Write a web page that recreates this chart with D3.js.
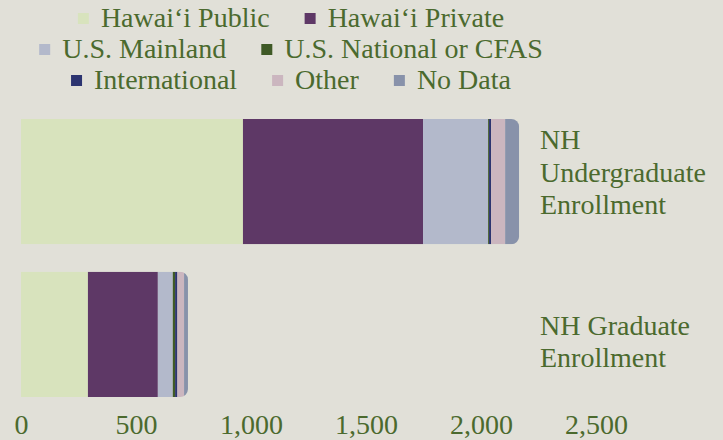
<!DOCTYPE html>
<html>
<head>
<meta charset="utf-8">
<script src="https://cdn.jsdelivr.net/npm/d3@7"></script>
<style>
  html, body { margin: 0; padding: 0; background: #e1e0d8; }
  svg text { font-family: "Liberation Serif", serif; fill: #4b6a2e; }
</style>
</head>
<body>
<div id="root"></div>
<script>
const width = 723, height = 440;

// data
const categories = ["NH Undergraduate Enrollment", "NH Graduate Enrollment"];
const labelLines = [["NH", "Undergraduate", "Enrollment"], ["NH Graduate", "Enrollment"]];
const seriesNames = ["Hawaiʻi Public", "Hawaiʻi Private", "U.S. Mainland", "U.S. National or CFAS", "International", "Other", "No Data"];
const hawaiiPublic   = [965, 291];
const hawaiiPrivate  = [783, 304];
const usMainland     = [283, 65];
const usNational     = [4, 10];
const international  = [9, 10];
const other          = [61, 29];
const noData         = [61, 17];
const xTicks = [0, 500, 1000, 1500, 2000, 2500];

const colors = ["#d8e3bd", "#5e3866", "#b3b9cb", "#3f5a26", "#2c3470", "#cbb6bf", "#8892aa"];
const legendRows = [[0, 1], [2, 3], [4, 5, 6]];

const seriesValues = [hawaiiPublic, hawaiiPrivate, usMainland, usNational, international, other, noData];
const table = categories.map((c, i) => {
  const row = { category: c };
  seriesNames.forEach((s, j) => row[s] = seriesValues[j][i]);
  return row;
});

const fs = 28;
const svg = d3.select('#root').append('svg')
  .attr('width', width).attr('height', height)
  .attr('viewBox', [0, 0, width, height]);

const x = d3.scaleLinear().domain([0, 2500]).range([21, 596]);
const y = d3.scaleBand().domain(categories).range([119, 397]).paddingInner(0.18);
const color = d3.scaleOrdinal().domain(seriesNames).range(colors);

const stacked = d3.stack().keys(seriesNames)(table);

// clip each bar so only its right end is rounded
const r = 8;
const defs = svg.append('defs');
table.forEach((d, i) => {
  const total = d3.sum(seriesNames, s => d[s]);
  const x0 = x(0), x1 = x(total), y0 = y(d.category), y1 = y0 + y.bandwidth();
  defs.append('clipPath').attr('id', 'clip' + i)
    .append('path')
    .attr('d', `M${x0},${y0}H${x1 - r}A${r},${r} 0 0 1 ${x1},${y0 + r}V${y1 - r}A${r},${r} 0 0 1 ${x1 - r},${y1}H${x0}Z`);
});

const bars = svg.append('g');
categories.forEach((c, i) => {
  const g = bars.append('g').attr('clip-path', `url(#clip${i})`);
  g.selectAll('rect')
    .data(stacked.map(layer => ({ key: layer.key, d: layer[i] })))
    .enter().append('rect')
      .attr('x', p => x(p.d[0]))
      .attr('width', p => x(p.d[1]) - x(p.d[0]))
      .attr('y', y(c))
      .attr('height', y.bandwidth())
      .attr('fill', p => color(p.key));
});

// category labels on the right
const lineH = 32.5;
categories.forEach((c, i) => {
  const lines = labelLines[i];
  const lastBase = y(c) + y.bandwidth() - 30;
  const t = svg.append('text').attr('font-size', fs);
  lines.forEach((ln, k) => {
    t.append('tspan').attr('x', 540)
      .attr('y', lastBase - (lines.length - 1 - k) * lineH)
      .text(ln);
  });
});

// x axis, labels only
const xAxis = d3.axisBottom(x).tickValues(xTicks).tickFormat(d3.format(',')).tickSize(0).tickPadding(0);
const gX = svg.append('g').attr('transform', 'translate(0,434)').call(xAxis);
gX.select('.domain').remove();
gX.selectAll('text')
  .attr('font-size', fs)
  .attr('font-family', '"Liberation Serif", serif')
  .attr('fill', '#4b6a2e')
  .attr('y', 0)
  .attr('dy', 0);

// legend
const legendCenter = 291;
const rowBase = [27, 58, 89];
const sw = 11, swGap = 12, itemGap = 35;
legendRows.forEach((row, ri) => {
  const g = svg.append('g');
  let cx = 0;
  row.forEach(si => {
    g.append('rect').attr('x', cx).attr('y', rowBase[ri] - 14).attr('width', sw).attr('height', sw)
      .attr('fill', colors[si]);
    const t = g.append('text').attr('x', cx + sw + swGap).attr('y', rowBase[ri])
      .attr('font-size', fs).text(seriesNames[si]);
    cx += sw + swGap + t.node().getComputedTextLength() + itemGap;
  });
  const w = cx - itemGap;
  g.attr('transform', `translate(${legendCenter - w / 2},0)`);
});
</script>
</body>
</html>
